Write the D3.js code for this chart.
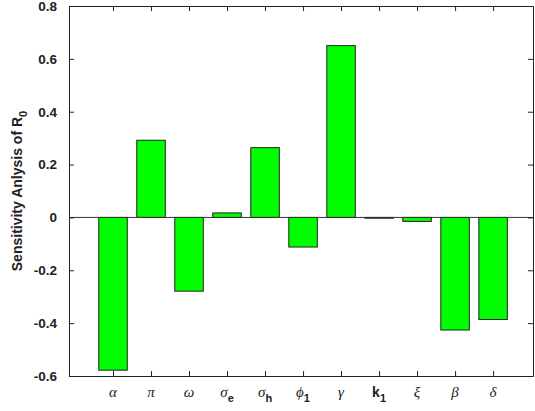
<!DOCTYPE html>
<html>
<head>
<meta charset="utf-8">
<script src="https://cdn.jsdelivr.net/npm/d3@7"></script>
<style>
  body { margin: 0; background: #fff; }
  svg { display: block; }
</style>
</head>
<body>
<svg id="chart" width="535" height="411"></svg>
<script>
// Sensitivity indices of R0 for each model parameter
const params = [
  { sym: "α", sub: "" },
  { sym: "π", sub: "" },
  { sym: "ω", sub: "" },
  { sym: "σ", sub: "e" },
  { sym: "σ", sub: "h" },
  { sym: "ϕ", sub: "1" },
  { sym: "γ", sub: "" },
  { sym: "k", sub: "1", plain: true },
  { sym: "ξ", sub: "" },
  { sym: "β", sub: "" },
  { sym: "δ", sub: "" }
];
const values = [-0.578, 0.292, -0.279, 0.017, 0.264, -0.112, 0.650, -0.003, -0.015, -0.426, -0.386];
const yTicks = [-0.6, -0.4, -0.2, 0, 0.2, 0.4, 0.6, 0.8];
const yLabel = "Sensitivity Anlysis of R";

const svg = d3.select("#chart");
const mLeft = 69, mRight = 533, mTop = 6, mBottom = 376;

const x = d3.scaleLinear().domain([-0.158, 12.05]).range([mLeft, mRight]);
const y = d3.scaleLinear().domain([-0.6, 0.8]).range([mBottom, mTop]);
const barW = 0.75;
const idx = values.map((_, i) => i + 1);

// bars
svg.append("g").selectAll("rect").data(values).join("rect")
  .attr("x", (d, i) => x(i + 1 - barW / 2))
  .attr("width", x(barW) - x(0))
  .attr("y", d => y(Math.max(0, d)))
  .attr("height", d => Math.abs(y(d) - y(0)))
  .attr("fill", "#00ff00")
  .attr("stroke", "#222")
  .attr("stroke-width", 1);

// zero baseline
svg.append("line")
  .attr("x1", mLeft).attr("x2", mRight)
  .attr("y1", y(0)).attr("y2", y(0))
  .attr("stroke", "#333").attr("stroke-width", 1);

// axes with inward ticks on all four sides
const fontTick = "bold 13.5px 'Liberation Sans', Arial, sans-serif";
const fmt = d => d === 0 ? "0" : d.toFixed(1);   // plain hyphen-minus
const axL = svg.append("g").attr("transform", `translate(${mLeft},0)`)
  .call(d3.axisLeft(y).tickValues(yTicks).tickSizeInner(-5).tickSizeOuter(0).tickPadding(12)
    .tickFormat(fmt));
axL.selectAll("text").style("font", fontTick).attr("fill", "#222");
const axR = svg.append("g").attr("transform", `translate(${mRight},0)`)
  .call(d3.axisRight(y).tickValues(yTicks).tickSizeInner(-5).tickSizeOuter(0).tickFormat(""));
const axB = svg.append("g").attr("transform", `translate(0,${mBottom})`)
  .call(d3.axisBottom(x).tickValues(idx).tickSizeInner(-5).tickSizeOuter(0).tickFormat(""));
const axT = svg.append("g").attr("transform", `translate(0,${mTop})`)
  .call(d3.axisTop(x).tickValues(idx).tickSizeInner(-5).tickSizeOuter(0).tickFormat(""));
[axL, axR, axB, axT].forEach(a => {
  a.select(".domain").attr("stroke", "#222").attr("stroke-width", 1);
  a.selectAll(".tick line").attr("stroke", "#222");
});

// category labels: italic serif Greek with bold sans subscripts
const lab = svg.append("g").selectAll("text").data(params).join("text")
  .attr("x", (d, i) => x(i + 1))
  .attr("y", 397)
  .attr("text-anchor", "middle")
  .attr("fill", "#222");
lab.append("tspan")
  .style("font", d => d.plain ? "bold 14px 'Liberation Sans', Arial, sans-serif"
                              : "italic 15px 'Liberation Serif', 'Times New Roman', serif")
  .text(d => d.sym);
lab.filter(d => d.sub).append("tspan")
  .attr("dy", 5)
  .style("font", "bold 11px 'Liberation Sans', Arial, sans-serif")
  .text(d => d.sub);

// y-axis title
const yt = svg.append("text")
  .attr("transform", `translate(22,${(mTop + mBottom) / 2}) rotate(-90)`)
  .attr("text-anchor", "middle")
  .attr("fill", "#222")
  .style("font", "bold 14px 'Liberation Sans', Arial, sans-serif");
yt.append("tspan").text(yLabel);
yt.append("tspan").attr("dy", 5).style("font-size", "11px").text("0");
</script>
</body>
</html>
